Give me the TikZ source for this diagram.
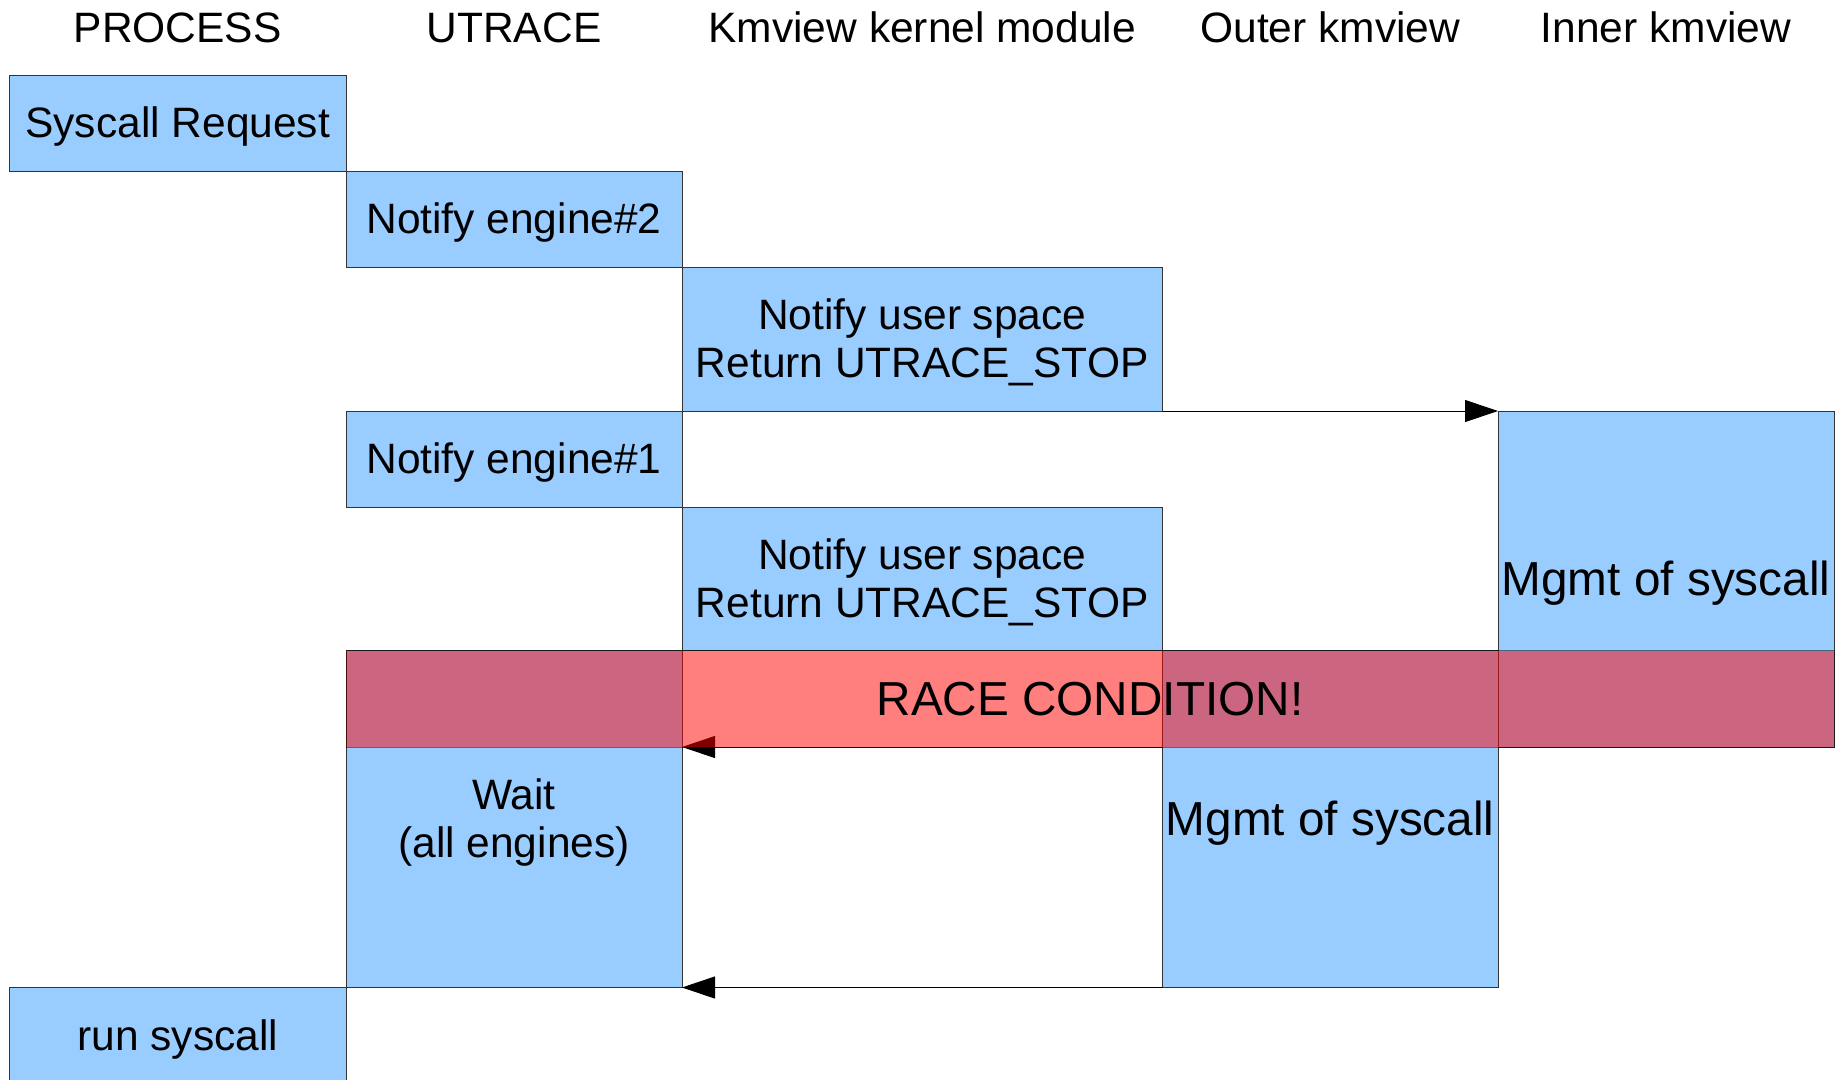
\documentclass[tikz,border=0pt]{standalone}
\usepackage{fontspec}
\setmainfont{Liberation Sans}
\usetikzlibrary{arrows.meta}
\definecolor{stepblue}{HTML}{99CCFF}
\definecolor{edgegray}{HTML}{333333}
\begin{document}
\begin{tikzpicture}[x=1pt,y=-1pt,
  act/.style={draw=edgegray, line width=1pt, fill=stepblue, inner sep=0pt, outer sep=0pt},
  txt/.style={anchor=base, inner sep=0pt, font=\fontsize{42.5}{48}\selectfont},
  bigtxt/.style={anchor=base, inner sep=0pt, font=\fontsize{47.7}{54}\selectfont},
  msg/.style={draw=black, line width=1pt, -{Triangle[length=33pt,width=22pt]}},
  race/.style={fill=red, draw=black, line width=1pt, fill opacity=0.5, draw opacity=0.5, text opacity=1, inner sep=0pt, outer sep=0pt}]
\useasboundingbox (0,0) rectangle (1841,1079);

% column headings
\node[txt] (hproc) at (177.7,42) {PROCESS};
\node[txt] (hutr)  at (514,42) {UTRACE};
\node[txt] (hkmod) at (922.25,42) {Kmview kernel module};
\node[txt] (hout)  at (1330.25,42) {Outer kmview};
\node[txt] (hin)   at (1666,42) {Inner kmview};

% activity boxes
\node[act, minimum width=336.6, minimum height=96]   (req)  at (177.7,123) {};
\node[act, minimum width=336,   minimum height=96.5] (eng2) at (514,219.25) {};
\node[act, minimum width=480.5, minimum height=143.5] (nus1) at (922.25,339.25) {};
\node[act, minimum width=336,   minimum height=96]   (eng1) at (514,459) {};
\node[act, minimum width=480.5, minimum height=143.5] (nus2) at (922.25,578.75) {};
\node[act, minimum width=336,   minimum height=337]  (wait) at (514,819) {};
\node[act, minimum width=336,   minimum height=336]  (mgin) at (1666,579) {};
\node[act, minimum width=335.5, minimum height=337]  (mgout) at (1330.25,819) {};
\node[act, minimum width=336.6, minimum height=96]   (run)  at (177.7,1035.5) {};

% box texts
\node[txt] (treq) at (177.7,137.6) {Syscall Request};
\node[txt] (teng2) at (514,233.8) {Notify engine\#2};
\node[txt] (tnus1a) at (922.25,329.8) {Notify user space};
\node[txt] (tnus1b) at (922.25,377.8) {Return UTRACE\_STOP};
\node[txt] (teng1) at (514,473.6) {Notify engine\#1};
\node[txt] (tnus2a) at (922.25,569.3) {Notify user space};
\node[txt] (tnus2b) at (922.25,617.3) {Return UTRACE\_STOP};
\node[txt] (twaita) at (514,809.8) {Wait};
\node[txt] (twaitb) at (514,857.8) {(all engines)};
\node[bigtxt] (tmgin) at (1666,595.3) {Mgmt of syscall};
\node[bigtxt] (tmgout) at (1330.25,835.5) {Mgmt of syscall};
\node[txt] (trun) at (177.7,1050.1) {run syscall};

% messages between the parties
\coordinate (resume) at (wait.east |- mgin.south);
\coordinate (outreply) at (mgout.west |- mgin.south);
\draw[msg] (nus1.south east) -- (mgin.north west);
\draw[msg] (outreply) -- (resume);
\draw[msg] (mgout.south west) -- (wait.south east);

% overlapping window
\node[race, minimum width=1488, minimum height=96.5] (rc) at (1090,698.75) {};
\node[bigtxt] (trc) at (1090,715) {RACE CONDITION!};
\end{tikzpicture}
\end{document}
